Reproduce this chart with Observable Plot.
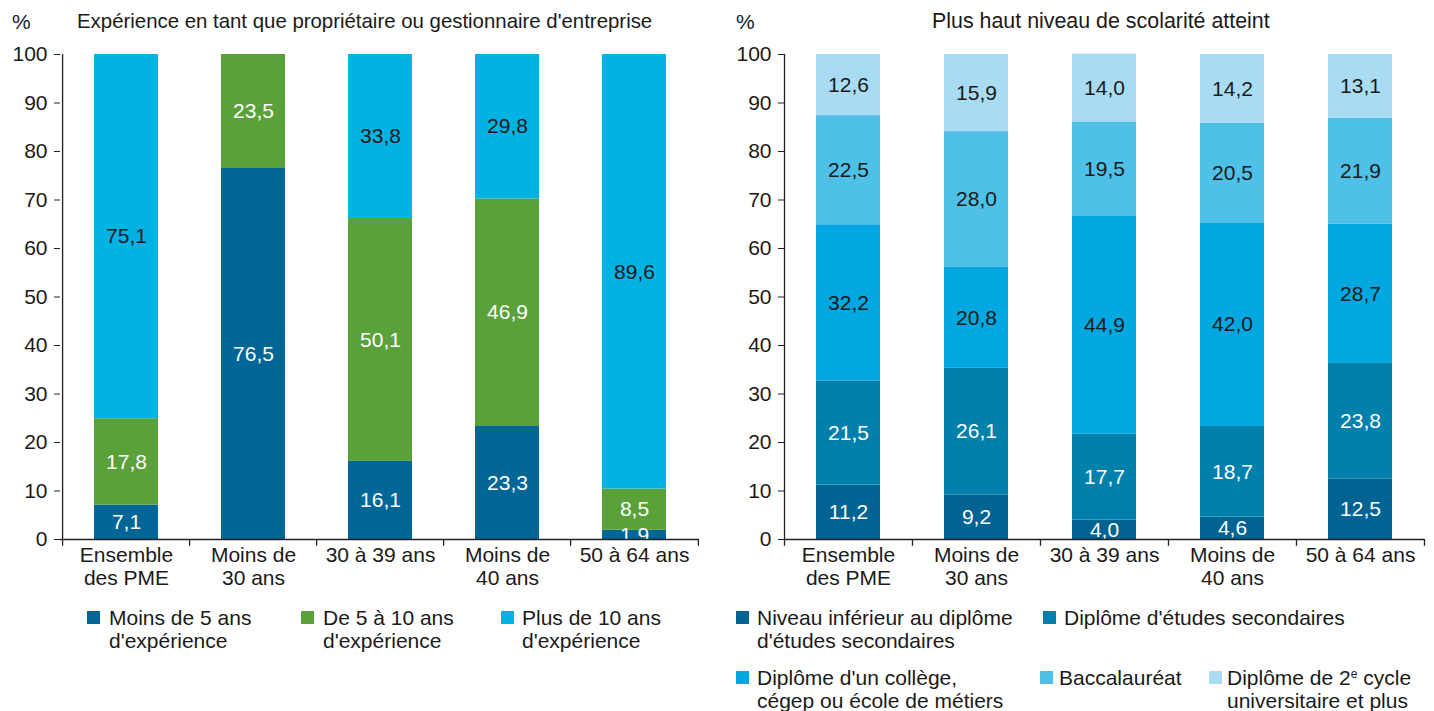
<!DOCTYPE html>
<html><head><meta charset="utf-8">
<script src="https://cdn.jsdelivr.net/npm/d3@7"></script>
<script src="https://cdn.jsdelivr.net/npm/@observablehq/plot@0.6"></script>
<style>
body{margin:0;background:#fff;font-family:"Liberation Sans",Arial,sans-serif;color:#1a1a1a;}
#wrap{position:relative;width:1434px;height:711px;overflow:hidden;background:#fff;}
.panel{position:absolute;top:0;height:711px;}
.abs{position:absolute;white-space:nowrap;font-size:21px;line-height:23px;color:#1a1a1a;}
.sw{position:absolute;width:13px;height:13px;}
sup{font-size:12px;line-height:0;vertical-align:7px;}
</style></head><body><div id="wrap"></div>
<script>
// ---------- data ----------
const categories = ["Ensemble\ndes PME", "Moins de\n30 ans", "30 à 39 ans", "Moins de\n40 ans", "50 à 64 ans"];
const yTicks = [0, 10, 20, 30, 40, 50, 60, 70, 80, 90, 100];

const expTitle = "Expérience en tant que propriétaire ou gestionnaire d'entreprise";
const expSeries = ["Moins de 5 ans\nd'expérience", "De 5 à 10 ans\nd'expérience", "Plus de 10 ans\nd'expérience"];
const expLess5  = [7.1, 76.5, 16.1, 23.3, 1.9];
const exp5to10  = [17.8, 23.5, 50.1, 46.9, 8.5];
const expMore10 = [75.1, 0, 33.8, 29.8, 89.6];

const eduTitle = "Plus haut niveau de scolarité atteint";
const eduSeries = ["Niveau inférieur au diplôme\nd'études secondaires", "Diplôme d'études secondaires",
  "Diplôme d'un collège,\ncégep ou école de métiers", "Baccalauréat", "Diplôme de 2e cycle\nuniversitaire et plus"];
const eduBelowHS  = [11.2, 9.2, 4.0, 4.6, 12.5];
const eduHS       = [21.5, 26.1, 17.7, 18.7, 23.8];
const eduCollege  = [32.2, 20.8, 44.9, 42.0, 28.7];
const eduBachelor = [22.5, 28.0, 19.5, 20.5, 21.9];
const eduGraduate = [12.6, 15.9, 14.0, 14.2, 13.1];

// ---------- styles / layout ----------
const expColors = ["#006695", "#5ba13a", "#00b3e3"];
const eduColors = ["#006391", "#0080ab", "#00a7e0", "#4fc0e8", "#a9dcf2"];
const FONT = '"Liberation Sans", Arial, sans-serif';
const INK = "#1a1a1a";
const FS = 21;

const fmt = v => v.toFixed(1).replace(".", ",");

function makeChart({width, marginLeft, marginRight, series, values, colors, darkCount}) {
  const data = [];
  series.forEach((s, i) => categories.forEach((c, j) => data.push({cat: c, series: s, idx: i, value: values[i][j]})));
  const step = (width - marginLeft - marginRight) / categories.length;
  const lbl = (test, fill) => Plot.text(data, Plot.filter(test,
    Plot.stackY({x: "cat", y: "value", text: d => fmt(d.value), fill, fontSize: FS})));
  return Plot.plot({
    width, height: 600, marginTop: 54, marginBottom: 61, marginLeft, marginRight,
    style: {fontFamily: FONT, fontSize: FS + "px", color: INK, background: "transparent", overflow: "visible"},
    x: {domain: categories, paddingInner: 0.5, paddingOuter: 0.25, axis: null},
    y: {domain: [0, 100], axis: null},
    color: {domain: series, range: colors},
    marks: [
      Plot.barY(data, {x: "cat", y: "value", fill: "series"}),
      lbl(d => d.value > 0 && d.idx < darkCount, "white"),
      lbl(d => d.value > 0 && d.idx >= darkCount, INK),
      Plot.ruleY([0], {stroke: "#222", strokeWidth: 1.3}),
      Plot.ruleX([categories[0]], {dx: -step / 2, y1: 0, y2: 100, stroke: "#222", strokeWidth: 1.3}),
      Plot.axisY({ticks: yTicks, tickSize: 6, tickPadding: 7, stroke: "#222", fill: INK, fontSize: FS, label: null}),
      Plot.axisX({tickSize: 0, tickPadding: 6, lineHeight: 1.1, fill: INK, fontSize: FS, label: null}),
      Plot.ruleX(categories, {x: d => d, dx: -step / 2, y1: 0, y2: -1.4, stroke: "#222", strokeWidth: 1.3}),
      Plot.ruleX([categories[categories.length - 1]], {dx: step / 2, y1: 0, y2: -1.4, stroke: "#222", strokeWidth: 1.3})
    ]
  });
}

const wrap = document.getElementById("wrap");
function addText(parent, html, left, top, size) {
  const d = document.createElement("div");
  d.className = "abs"; d.style.left = left + "px"; d.style.top = top + "px";
  if (size) d.style.fontSize = size + "px";
  d.innerHTML = html; parent.appendChild(d); return d;
}
function legendHTML(s) { return s.replace("2e ", "2<sup>e</sup> ").replace("\n", "<br>"); }
function addLegend(parent, series, colors, layout) {
  series.forEach((s, i) => {
    const p = layout[i];
    const sw = document.createElement("div");
    sw.className = "sw"; sw.style.left = p.sx + "px"; sw.style.top = (p.y - 6.5) + "px"; sw.style.background = colors[i];
    parent.appendChild(sw);
    addText(parent, legendHTML(s), p.tx, p.y - 11.5);
  });
}

// left panel
const left = document.createElement("div");
left.className = "panel"; left.style.left = "0px"; left.style.width = "717px";
wrap.appendChild(left);
left.appendChild(makeChart({width: 717, marginLeft: 60, marginRight: 18, series: expSeries,
  values: [expLess5, exp5to10, expMore10], colors: expColors, darkCount: 2}));
addText(left, "%", 12, 10);
addText(left, expTitle, 77, 10, 20.4);
addLegend(left, expSeries, expColors, [
  {sx: 87, tx: 109, y: 617}, {sx: 301, tx: 323, y: 617}, {sx: 501, tx: 522, y: 617}]);

// right panel
const right = document.createElement("div");
right.className = "panel"; right.style.left = "720px"; right.style.width = "714px";
wrap.appendChild(right);
right.appendChild(makeChart({width: 714, marginLeft: 64, marginRight: 10, series: eduSeries,
  values: [eduBelowHS, eduHS, eduCollege, eduBachelor, eduGraduate], colors: eduColors, darkCount: 2}));
addText(right, "%", 16, 10);
addText(right, eduTitle, 212, 10, 21.4);
addLegend(right, eduSeries, eduColors, [
  {sx: 16, tx: 37, y: 617}, {sx: 323, tx: 344, y: 617},
  {sx: 16, tx: 37, y: 677}, {sx: 320, tx: 339, y: 677}, {sx: 489, tx: 507, y: 677}]);
document.querySelectorAll("svg").forEach(s => { s.style.position = "absolute"; s.style.left = "0px"; s.style.top = "0px"; });
</script></body></html>
